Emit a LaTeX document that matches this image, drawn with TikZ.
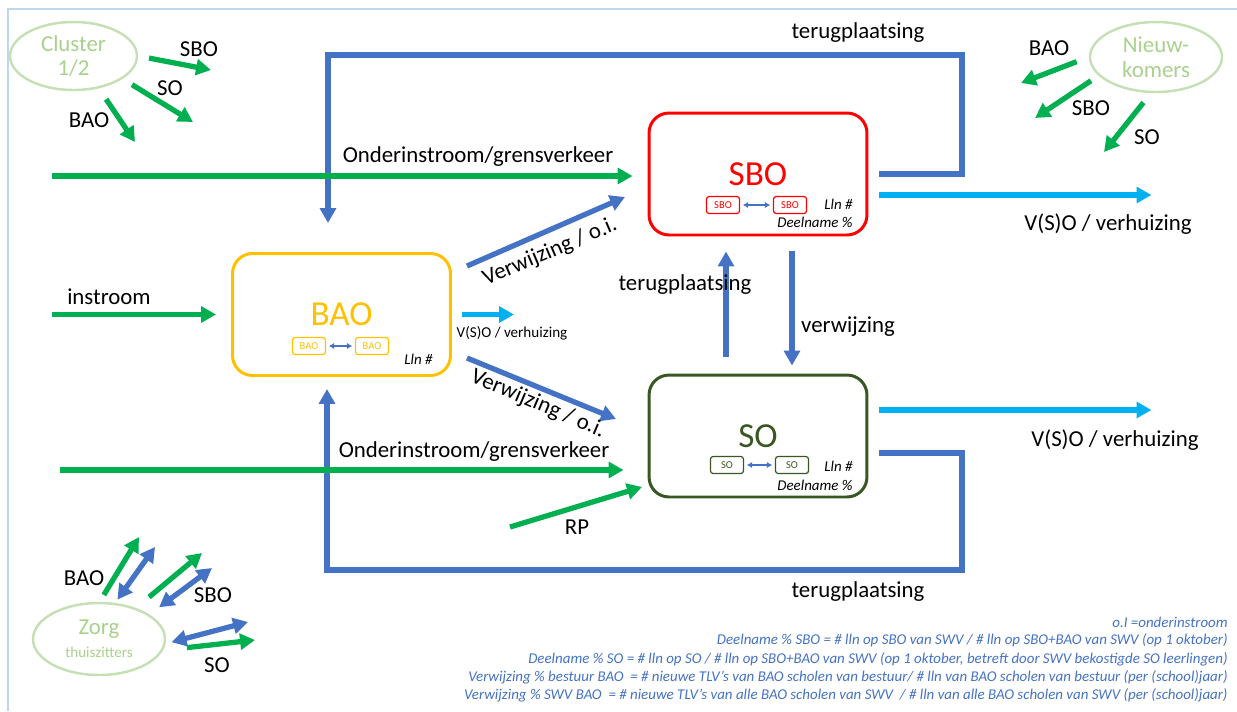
\documentclass[tikz,border=0pt]{standalone}
\usepackage{fontspec}
\setmainfont{Carlito}
\usetikzlibrary{arrows.meta,shapes.geometric,positioning}
\definecolor{groen}{HTML}{00B050}
\definecolor{blauw}{HTML}{4472C4}
\definecolor{lichtblauw}{HTML}{00B0F0}
\definecolor{lichtgroen}{HTML}{C5E0B4}
\definecolor{tekstgroen}{HTML}{A9D18E}
\definecolor{rood}{HTML}{FF0000}
\definecolor{geel}{HTML}{FFC000}
\definecolor{donkergroen}{HTML}{385723}
\definecolor{kader}{HTML}{BDD7EE}

\begin{document}
\begin{tikzpicture}[x=0.02cm,y=-0.02cm,
	pijl/.style={line width=3pt,-{Triangle[length=8.5pt,width=9pt]}},
	dubbel/.style={line width=3pt,{Triangle[length=8.5pt,width=9pt]}-{Triangle[length=8.5pt,width=9pt]}},
	klein/.style={blauw,line width=1pt,shorten <=1.5pt,shorten >=1.5pt,{Latex[length=3pt,width=3.5pt]}-{Latex[length=3pt,width=3.5pt]}},
	lbl/.style={font=\fontsize{13}{15}\selectfont},
	school/.style={draw,line width=1.7pt,rounded corners=0.4cm,minimum width=4.36cm,minimum height=2.44cm,font=\fontsize{20}{24}\selectfont},
	mini/.style={draw,line width=0.7pt,rounded corners=1.5pt,minimum width=0.66cm,minimum height=0.34cm,inner sep=0pt,font=\fontsize{6}{7}\selectfont},
	kengetal/.style={font=\fontsize{8.5}{10}\selectfont\itshape,inner sep=0pt,anchor=east},
	groep/.style={ellipse,draw=lichtgroen,line width=1.4pt,text=tekstgroen,align=center,inner sep=0pt,font=\fontsize{13}{14}\selectfont},
	noot/.style={font=\fontsize{8.5}{10}\selectfont\itshape,text=blauw,anchor=east,inner sep=0pt}]
	\useasboundingbox (0,0) rectangle (1237,711);
	\draw[kader,line width=1.2pt] (8,711) -- (8,9) -- (1237,9);
	%%
	\node[school,draw=rood,text=rood] (sbo) at (758,174) {SBO};
	\node[school,draw=geel,text=geel] (bao) at (341.5,314.5) {BAO};
	\node[school,draw=donkergroen,text=donkergroen] (so) at (758,436) {SO};
	%%
	\node[mini,draw=rood,text=rood] (sbo1) at (723,205) {SBO};
	\node[mini,draw=rood,text=rood] (sbo2) at (790,205) {SBO};
	\draw[klein] (sbo1) -- (sbo2);
	\node[kengetal] (sbolln) at (853,204) {Lln \#};
	\node[kengetal] (sbodeel) at (853,222) {Deelname \%};
	\node[mini,draw=geel,text=geel] (bao1) at (309,346) {BAO};
	\node[mini,draw=geel,text=geel] (bao2) at (372,346) {BAO};
	\draw[klein] (bao1) -- (bao2);
	\node[kengetal] (baolln) at (433,359) {Lln \#};
	\node[mini,draw=donkergroen,text=donkergroen] (so1) at (727,465) {SO};
	\node[mini,draw=donkergroen,text=donkergroen] (so2) at (792,465) {SO};
	\draw[klein] (so1) -- (so2);
	\node[kengetal] (solln) at (853,466) {Lln \#};
	\node[kengetal] (sodeel) at (853,485) {Deelname \%};
	%%
	\node[groep,minimum width=2.54cm,minimum height=1.36cm] (cluster) at (73.5,56) {Cluster\\1/2};
	\node[groep,minimum width=2.64cm,minimum height=1.4cm] (nieuw) at (1156,57) {Nieuw-\\komers};
	\node[groep,minimum width=2.64cm,minimum height=1.44cm] (zorg) at (99,639) {Zorg\\[-1pt]{\fontsize{8.6}{10}\selectfont thuiszitters}};
	%%
	\coordinate (clsbo) at (211,70);
	\coordinate (clso) at (193,122);
	\coordinate (clbao) at (135,142);
	\draw[pijl,groen,shorten <=0.22cm] (cluster.0) -- (clsbo);
	\draw[pijl,groen,shorten <=0.22cm] (cluster.-25) -- (clso);
	\draw[pijl,groen,shorten <=0.26cm] (cluster.-52) -- (clbao);
	\node[lbl] (clsbotxt) at (199,49) {SBO};
	\node[lbl] (clsotxt) at (170,88) {SO};
	\node[lbl] (clbaotxt) at (89,120) {BAO};
	%%
	\coordinate (nkbao) at (1021,83);
	\coordinate (nksbo) at (1035,118);
	\coordinate (nkso) at (1104,152);
	\draw[pijl,groen,shorten <=0.26cm] (nieuw.180) -- (nkbao);
	\draw[pijl,groen,shorten <=0.18cm] (nieuw.-162) -- (nksbo);
	\draw[pijl,groen,shorten <=0.24cm] (nieuw.-98) -- (nkso);
	\node[lbl] (nkbaotxt) at (1049,48) {BAO};
	\node[lbl] (nksbotxt) at (1091,108) {SBO};
	\node[lbl] (nksotxt) at (1147,137) {SO};
	%%
	\coordinate (zgbao) at (139,537);
	\coordinate (zgbaot) at (155,547);
	\coordinate (zgsbo) at (202,553);
	\coordinate (zgsbot) at (212,568);
	\coordinate (zgsot) at (248,622);
	\coordinate (zgso) at (255,640);
	\draw[pijl,groen,shorten <=0.16cm] (zorg.89) -- (zgbao);
	\draw[dubbel,blauw,shorten <=0.08cm] (zorg.66) -- (zgbaot);
	\draw[pijl,groen,shorten <=0.34cm] (zorg.40) -- (zgsbo);
	\draw[dubbel,blauw,shorten <=0.24cm] (zorg.26) -- (zgsbot);
	\draw[dubbel,blauw,shorten <=0.12cm] (zorg.-4) -- (zgsot);
	\draw[pijl,groen,shorten <=0.48cm] (zorg.-10) -- (zgso);
	\node[lbl] (zgbaotxt) at (84,578) {BAO};
	\node[lbl] (zgsbotxt) at (213,595) {SBO};
	\node[lbl] (zgsotxt) at (217,665) {SO};
	%%
	\draw[pijl,blauw] ([xshift=0.22cm]sbo.east) -| (962,55) -| ([shift={(-0.27cm,0.58cm)}]bao.north);
	\node[lbl] (terug1) at (858,33) {terugplaatsing};
	\draw[pijl,blauw] ([shift={(0.22cm,-0.34cm)}]so.east) -| (962,570) -| ([shift={(-0.29cm,-0.24cm)}]bao.south);
	\node[lbl] (terug2) at (858,592) {terugplaatsing};
	\draw[pijl,blauw,shorten <=0.34cm,shorten >=0.3cm] ([xshift=-0.64cm]so.north) -- ([xshift=-0.64cm]sbo.south);
	\node[lbl] (terug3) at (685,285) {terugplaatsing};
	\draw[pijl,blauw,shorten <=0.3cm,shorten >=0.16cm] ([xshift=0.68cm]sbo.south) -- ([xshift=0.68cm]so.north);
	\node[lbl] (verw) at (848,327) {verwijzing};
	%%
	\coordinate (vw1a) at (467,266);
	\coordinate (vw1b) at (625,197);
	\coordinate (vw2a) at (467,358);
	\coordinate (vw2b) at (616,419);
	\draw[pijl,blauw] (vw1a) -- (vw1b);
	\draw[pijl,blauw] (vw2a) -- (vw2b);
	\node[lbl,rotate=23,inner sep=0.5pt] (verw1) at (550,252) {Verwijzing / o.i.};
	\node[lbl,rotate=-23,inner sep=0.5pt] (verw2) at (538,404) {Verwijzing / o.i.};
	%%
	\draw[pijl,lichtblauw] ([shift={(0.22cm,-0.42cm)}]sbo.east) -- ++(272,0);
	\node[lbl] (vso1) at (1108,224) {V(S)O / verhuizing};
	\draw[pijl,lichtblauw] ([shift={(0.22cm,0.52cm)}]so.east) -- ++(272,0);
	\node[lbl] (vso2) at (1115,440) {V(S)O / verhuizing};
	\draw[pijl,lichtblauw] ([xshift=0.2cm]bao.east) -- ++(52,0);
	\node[font=\fontsize{8.6}{10}\selectfont] (vso3) at (512,333) {V(S)O / verhuizing};
	%%
	\coordinate (in1) at (52,176);
	\coordinate (in2) at (52,314.5);
	\coordinate (in3) at (60,470);
	\coordinate (rp) at (510,527);
	\coordinate (rpend) at (642,487);
	\draw[pijl,groen,shorten >=0.3cm] (in1) -- (in1 -| sbo.west);
	\node[lbl] (oi1) at (478,157) {Onderinstroom/grensverkeer};
	\draw[pijl,groen,shorten >=0.3cm] (in2) -- (bao.west);
	\node[lbl] (instr) at (109,297) {instroom};
	\draw[pijl,groen,shorten >=0.48cm] (in3) -- (in3 -| so.west);
	\node[lbl] (oi2) at (474,452) {Onderinstroom/grensverkeer};
	\draw[pijl,groen] (rp) -- (rpend);
	\node[lbl] (rptxt) at (577,527) {RP};
	%%
	\node[noot] (noot1) at (1228,622) {o.I =onderinstroom};
	\node[noot] (noot2) at (1228,640) {Deelname \% SBO = \# lln op SBO van SWV / \# lln op SBO+BAO van SWV (op 1 oktober)};
	\node[noot] (noot3) at (1228,659) {Deelname \% SO = \# lln op SO / \# lln op SBO+BAO van SWV (op 1 oktober, betreft door SWV bekostigde SO leerlingen)};
	\node[noot] (noot4) at (1228,677) {Verwijzing \% bestuur BAO \ = \# nieuwe TLV’s van BAO scholen van bestuur/ \# lln van BAO scholen van bestuur (per (school)jaar)};
	\node[noot] (noot5) at (1228,695) {Verwijzing \% SWV BAO \ = \# nieuwe TLV’s van alle BAO scholen van SWV \ / \# lln van alle BAO scholen van SWV (per (school)jaar)};
\end{tikzpicture}
\end{document}
